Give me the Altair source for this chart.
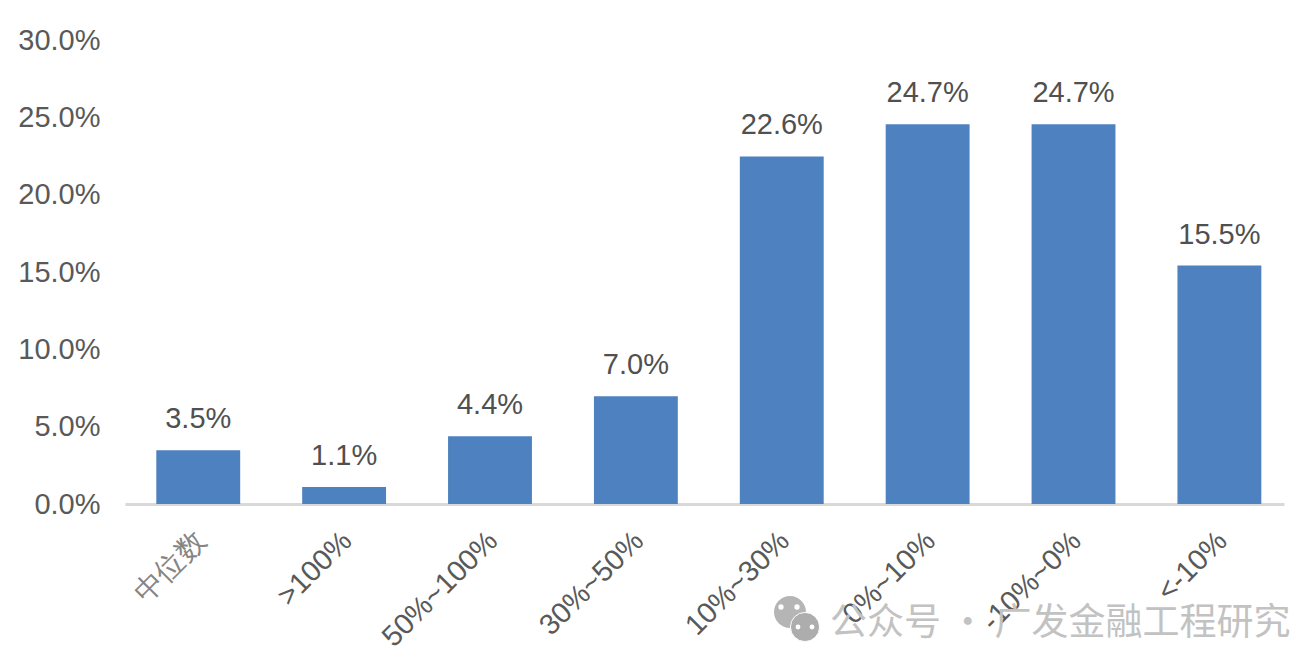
import altair as alt
import pandas as pd

categories = ["中位数", ">100%", "50%~100%", "30%~50%", "10%~30%", "0%~10%", "-10%~0%", "<-10%"]
values = [3.5, 1.1, 4.4, 7.0, 22.6, 24.7, 24.7, 15.5]
y_ticks = [0, 5, 10, 15, 20, 25, 30]
watermark = "公众号 · 广发金融工程研究"
FONT = "Liberation Sans"

df = pd.DataFrame({"cat": categories, "val": values, "label": [f"{v:.1f}%" for v in values]})

x = alt.X("cat:N", sort=categories, title=None,
          scale=alt.Scale(paddingInner=0.425, paddingOuter=0.185, align=0.58),
          axis=alt.Axis(labelAngle=-45, labelFontSize=29, labelFont=FONT,
                        labelColor={"condition": {"test": "datum.value == '中位数'", "value": "#858585"},
                                    "value": "#595959"},
                        labelPadding=22, labelOffset=-7, ticks=False, domainColor="#D9D9D9", domainWidth=3,
                        grid=False, labelOverlap=False, labelLimit=400))
y_axis = alt.Y("val:Q", title=None,
               scale=alt.Scale(domain=[0, 30], nice=False),
               axis=alt.Axis(values=y_ticks, labelExpr="format(datum.value, '.1f') + '%'",
                             labelFontSize=29, labelColor="#595959", labelFont=FONT, labelPadding=25,
                             ticks=False, domain=False, grid=False))
y_bar = alt.Y("val:Q", title=None, scale=alt.Scale(domain=[0, 30.17], nice=False), axis=None)

axis_layer = alt.Chart(df).mark_point(opacity=0).encode(x=x, y=y_axis)
bars = alt.Chart(df).mark_bar(color="#4D81BF").encode(x=x, y=y_bar)
text = alt.Chart(df).mark_text(baseline="bottom", dy=-16, fontSize=29, color="#505050", font=FONT).encode(
    x=alt.X("cat:N", sort=categories), y=y_bar, text="label:N")

wm = alt.Chart(pd.DataFrame({"t": [watermark]})).mark_text(
    align="left", baseline="middle", fontSize=37, color="#C2C2C2", font="Noto Sans CJK SC"
).encode(x=alt.value(705), y=alt.value(584), text="t:N")


def dot(px, py, size, color, **kw):
    return alt.Chart(pd.DataFrame({"a": [1]})).mark_circle(size=size, color=color, opacity=1, **kw).encode(
        x=alt.value(px), y=alt.value(py))


icon = [
    dot(665, 572, 1020, "#B5B5B5"),
    dot(656, 567, 28, "#FFFFFF"),
    dot(672, 567, 28, "#FFFFFF"),
    dot(680, 587, 850, "#ADADAD", stroke="white", strokeWidth=1),
    dot(673, 587, 24, "#FFFFFF"),
    dot(687, 587, 24, "#FFFFFF"),
]

chart = alt.layer(wm, *icon, axis_layer, bars, text).resolve_scale(y="independent").properties(
    width=1159, height=464,
    padding={"left": 117, "top": 32, "right": 16, "bottom": 153},
    autosize=alt.AutoSizeParams(type="none"),
    background="white",
).configure_view(stroke=None)

chart.save("out.html", embed_options={"renderer": "svg", "actions": False})
